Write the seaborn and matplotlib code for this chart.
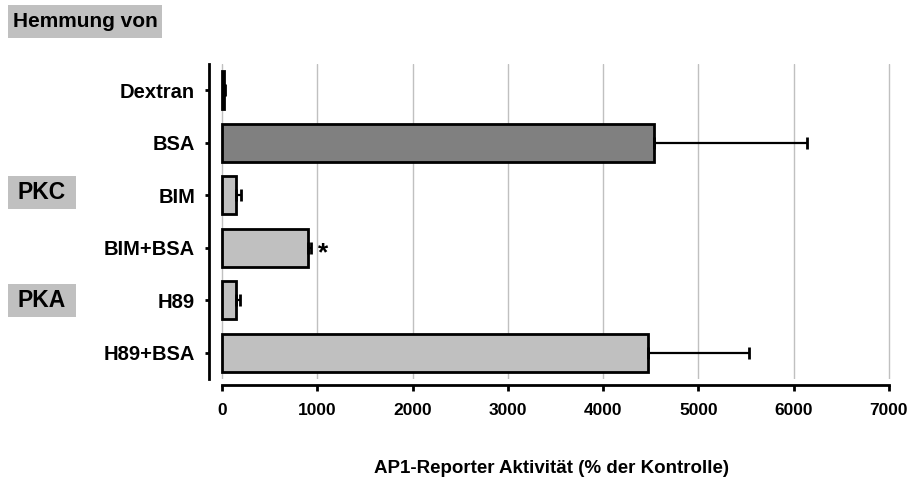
import matplotlib
matplotlib.use("Agg")
import matplotlib.pyplot as plt
from matplotlib import font_manager
from matplotlib.patches import Rectangle
import seaborn as sns
import pandas as pd
import numpy as np

categories = ["Dextran", "BSA", "BIM", "BIM+BSA", "H89", "H89+BSA"]
values = [20, 4533, 150, 905, 150, 4470]
errors = [15, 1610, 45, 30, 35, 1065]
bar_colors = ["#c0c0c0", "#808080", "#c0c0c0", "#c0c0c0", "#c0c0c0", "#c0c0c0"]
xticks = [0, 1000, 2000, 3000, 4000, 5000, 6000, 7000]
xlabel = "AP1-Reporter Aktivität (% der Kontrolle)"

sns.set_theme(style="white")
names = {f.name for f in font_manager.fontManager.ttflist}
main_font = "Liberation Sans" if "Liberation Sans" in names else "DejaVu Sans"
narrow_font = "Liberation Sans Narrow" if "Liberation Sans Narrow" in names else main_font
plt.rcParams["font.family"] = [main_font, "DejaVu Sans"]
for k in ["text.color", "axes.labelcolor", "xtick.color", "ytick.color", "axes.edgecolor"]:
    plt.rcParams[k] = "black"

df = pd.DataFrame({"cat": categories, "val": values})

fig = plt.figure(figsize=(9.14, 4.79), dpi=100)
ax = fig.add_axes([209 / 914, 1 - 379 / 479, (895 - 209) / 914, (379 - 64) / 479])

sns.barplot(data=df, x="val", y="cat", hue="cat", palette=bar_colors, orient="h",
            width=0.72, edgecolor="black", linewidth=2, legend=False, ax=ax,
            errorbar=None, zorder=3)

ypos = np.arange(len(categories))
ax.errorbar(values, ypos, xerr=[np.zeros(len(errors)), errors], fmt="none",
            ecolor="black", elinewidth=1.6, capsize=4.5, capthick=2, zorder=4)

# spines first (set_position resets ticks)
for s in ["top", "right"]:
    ax.spines[s].set_visible(False)
ax.spines["left"].set_linewidth(2)
ax.spines["left"].set_color("black")
ax.spines["bottom"].set_linewidth(2)
ax.spines["bottom"].set_color("black")
ax.spines["bottom"].set_position(("outward", 4.5))
ax.spines["bottom"].set_bounds(0, 7000)

ax.tick_params(axis="x", direction="out", length=4, width=2, color="black",
               pad=9, bottom=True, labelcolor="black")
ax.tick_params(axis="y", direction="out", length=3, width=2, color="black",
               pad=7, left=True, labelcolor="black")

ax.set_xlim(-136, 7063)
ax.set_ylim(5.5, -0.5)
ax.set_xticks(xticks)
ax.set_xticklabels([str(t) for t in xticks])
ax.set_yticks(ypos)
ax.set_yticklabels(categories)
ax.set_ylabel("")
ax.set_xlabel(xlabel, fontfamily=narrow_font, fontweight="bold", fontsize=13.5,
              labelpad=30, color="black")

ax.grid(axis="x", color="#c0c0c0", linewidth=1, zorder=0)
ax.grid(axis="y", visible=False)
ax.set_axisbelow(True)

for lab in ax.get_xticklabels():
    lab.set_fontfamily(narrow_font)
    lab.set_fontweight("bold")
    lab.set_fontsize(12.5)
    lab.set_color("black")
for lab in ax.get_yticklabels():
    lab.set_fontweight("bold")
    lab.set_fontsize(14.5)
    lab.set_color("black")

# asterisk
ax.text(values[3] + errors[3] + 70, 3.1, "*", fontsize=19, fontweight="bold",
        ha="left", va="center", color="black")

def label_box(x0, y0, x1, y1, text, size):
    W, H = 914, 479
    fig.patches.append(Rectangle((x0 / W, 1 - y1 / H), (x1 - x0) / W, (y1 - y0) / H,
                                 transform=fig.transFigure, facecolor="#c0c0c0",
                                 edgecolor="none", zorder=0))
    fig.text((x0 + x1) / 2 / W, 1 - (y0 + y1) / 2 / H, text, fontsize=size,
             fontweight="bold", ha="center", va="center", color="black")

label_box(8, 5, 162, 38, "Hemmung von", 15)
label_box(8, 176, 76, 209, "PKC", 16.5)
label_box(8, 284, 76, 317, "PKA", 16.5)

fig.savefig("out.png", dpi=100, facecolor="white")
